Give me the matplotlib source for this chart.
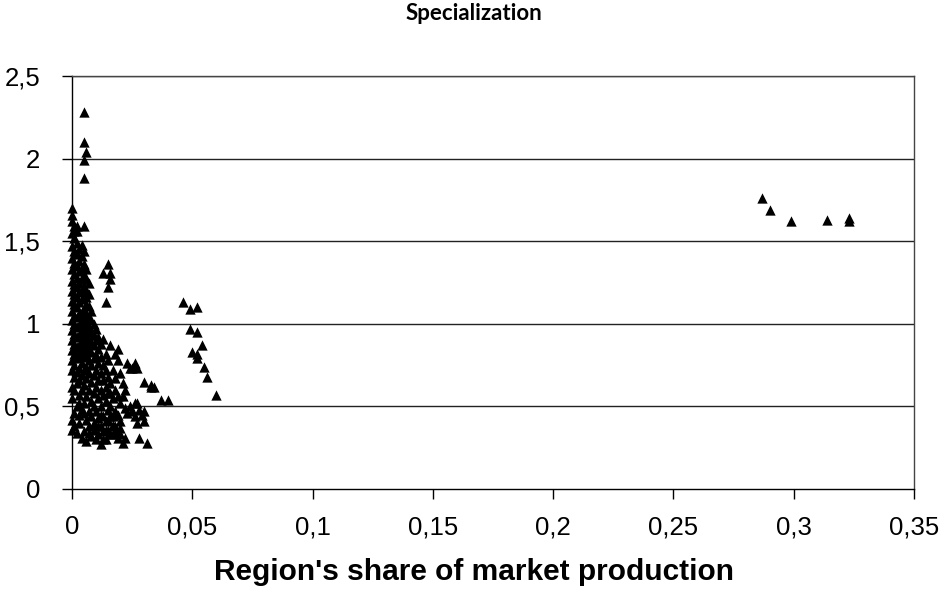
import matplotlib
matplotlib.use("Agg")
import matplotlib.pyplot as plt

# Regions near zero share: dense main cluster (share, specialization)
core_share = (
    [0.000] * 21 + [0.001] * 18 + [0.002] * 17 + [0.003] * 16 + [0.004] * 16
    + [0.005] * 15 + [0.006] * 14 + [0.007] * 12 + [0.008] * 10 + [0.009] * 8
    + [0.010] * 7 + [0.011] * 7 + [0.012] * 7 + [0.013] * 6 + [0.014] * 6
    + [0.015] * 5 + [0.016] * 5 + [0.017] * 4 + [0.018] * 5 + [0.019] * 4
    + [0.020] * 4 + [0.021] * 3 + [0.022] * 3 + [0.023] * 2 + [0.024] * 2
    + [0.025] * 2 + [0.026] * 3 + [0.027] * 3 + [0.028] * 2 + [0.029]
    + [0.030] * 3 + [0.031] + [0.033] + [0.034]
)
core_spec = [
    0.36, 0.42, 0.55, 0.62, 0.72, 0.78, 0.84, 0.90, 0.96, 1.02, 1.08, 1.14, 1.20, 1.26, 1.33, 1.40, 1.47, 1.55, 1.62, 1.66, 1.70,
    0.38, 0.46, 0.60, 0.68, 0.75, 0.82, 0.88, 0.94, 1.00, 1.05, 1.12, 1.18, 1.24, 1.30, 1.37, 1.44, 1.52, 1.59,
    0.34, 0.50, 0.64, 0.71, 0.79, 0.86, 0.92, 0.98, 1.04, 1.10, 1.16, 1.22, 1.28, 1.35, 1.42, 1.49, 1.56,
    0.40, 0.45, 0.57, 0.66, 0.73, 0.81, 0.87, 0.93, 0.99, 1.06, 1.13, 1.19, 1.25, 1.32, 1.38, 1.45,
    0.31, 0.48, 0.60, 0.69, 0.76, 0.83, 0.89, 0.95, 1.01, 1.07, 1.15, 1.21, 1.27, 1.34, 1.41, 1.48,
    0.35, 0.52, 0.63, 0.72, 0.80, 0.86, 0.92, 0.97, 1.03, 1.09, 1.17, 1.23, 1.30, 1.36, 1.44,
    0.29, 0.42, 0.56, 0.67, 0.74, 0.82, 0.88, 0.94, 1.00, 1.06, 1.12, 1.20, 1.27, 1.33,
    0.38, 0.47, 0.60, 0.70, 0.78, 0.85, 0.91, 0.98, 1.04, 1.11, 1.18, 1.25,
    0.32, 0.44, 0.53, 0.65, 0.75, 0.83, 0.89, 0.96, 1.02, 1.08,
    0.36, 0.40, 0.58, 0.69, 0.79, 0.87, 0.93, 1.00,
    0.30, 0.47, 0.62, 0.72, 0.81, 0.90, 0.97,
    0.33, 0.43, 0.55, 0.66, 0.76, 0.85, 0.92,
    0.27, 0.38, 0.50, 0.60, 0.70, 0.80, 0.88,
    0.35, 0.44, 0.57, 0.66, 0.75, 0.91,
    0.30, 0.41, 0.53, 0.62, 0.72, 0.82,
    0.36, 0.48, 0.58, 0.68, 0.78,
    0.33, 0.44, 0.50, 0.64, 0.87,
    0.39, 0.44, 0.55, 0.72,
    0.35, 0.38, 0.60, 0.67, 0.82,
    0.31, 0.45, 0.78, 0.85,
    0.33, 0.41, 0.52, 0.70,
    0.28, 0.56, 0.64,
    0.31, 0.49, 0.60,
    0.46, 0.76,
    0.50, 0.73,
    0.47, 0.73,
    0.44, 0.76, 0.52,
    0.40, 0.52, 0.73,
    0.31, 0.48,
    0.45,
    0.41, 0.47, 0.65,
    0.28,
    0.63,
    0.62,
]

# Extra small regions filling the lower part of the cluster
fill_share = [0.003, 0.005, 0.007, 0.009, 0.011, 0.013, 0.015, 0.017, 0.019,
              0.012, 0.014, 0.016, 0.018, 0.020, 0.002, 0.004, 0.006, 0.008]
fill_spec = [0.52, 0.46, 0.34, 0.50, 0.38, 0.30, 0.42, 0.33, 0.56,
             0.45, 0.36, 0.58, 0.47, 0.37, 0.82, 1.02, 1.16, 0.93]

# Small regions with high specialization
peak_share = [0.005, 0.005, 0.006, 0.005, 0.005, 0.002, 0.005, 0.001,
              0.015, 0.013, 0.016, 0.016, 0.015, 0.014]
peak_spec = [2.28, 2.10, 2.04, 1.99, 1.88, 1.59, 1.59, 1.56,
             1.36, 1.31, 1.31, 1.27, 1.22, 1.13]

# Mid-sized group around 5 % share
mid_share = [0.046, 0.049, 0.052, 0.049, 0.052, 0.054, 0.050, 0.052,
             0.052, 0.055, 0.056, 0.060, 0.033, 0.037, 0.040]
mid_spec = [1.13, 1.09, 1.10, 0.97, 0.95, 0.87, 0.83, 0.82,
            0.79, 0.74, 0.68, 0.57, 0.62, 0.54, 0.54]

# Dominant producers
top_share = [0.287, 0.290, 0.299, 0.314, 0.323, 0.323]
top_spec = [1.76, 1.69, 1.62, 1.63, 1.64, 1.62]

xticks = [0, 0.05, 0.10, 0.15, 0.20, 0.25, 0.30, 0.35]
xtick_labels = ["0", "0,05", "0,1", "0,15", "0,2", "0,25", "0,3", "0,35"]
yticks = [0, 0.5, 1.0, 1.5, 2.0, 2.5]
ytick_labels = ["0", "0,5", "1", "1,5", "2", "2,5"]

fig = plt.figure(figsize=(9.48, 6.04), dpi=100)
ax = fig.add_axes([72 / 948, 1 - 489 / 604, 842 / 948, 413 / 604])

marker_kw = dict(marker="^", s=55, color="black", linewidths=0, zorder=3, clip_on=False)
for xs, ys in [(core_share, core_spec), (fill_share, fill_spec),
               (peak_share, peak_spec), (mid_share, mid_spec),
               (top_share, top_spec)]:
    ax.scatter(xs, ys, **marker_kw)

ax.set_xlim(0, 0.35)
ax.set_ylim(0, 2.5)
ax.set_xticks(xticks)
ax.set_xticklabels(xtick_labels)
ax.set_yticks(yticks)
ax.set_yticklabels(ytick_labels)

for yv in yticks[1:]:
    ax.axhline(yv, color="#222222", lw=1.0, zorder=1)

for side in ["left", "bottom"]:
    ax.spines[side].set_color("black")
    ax.spines[side].set_linewidth(1.0)
for side in ["right", "top"]:
    ax.spines[side].set_color("#444444")
    ax.spines[side].set_linewidth(1.0)

ax.tick_params(axis="both", direction="out", length=7, width=1.0,
               labelsize=18.5, color="black")
ax.tick_params(axis="x", pad=12)
ax.tick_params(axis="y", pad=16)
for lbl in ax.get_xticklabels() + ax.get_yticklabels():
    lbl.set_fontfamily("Liberation Sans")

ax.set_xlabel("Region's share of market production", fontsize=21.5,
              fontweight="bold", fontfamily="Liberation Sans")
ax.xaxis.set_label_coords(402 / 842, -0.20)
ax.xaxis.label.set_va("center")
fig.text(0.5, 1 - 14 / 604, "Specialization", ha="center", va="center",
         fontsize=16, fontweight="bold",
         fontfamily=["Liberation Sans Narrow", "Lato"])

fig.savefig("out.png", dpi=100)
